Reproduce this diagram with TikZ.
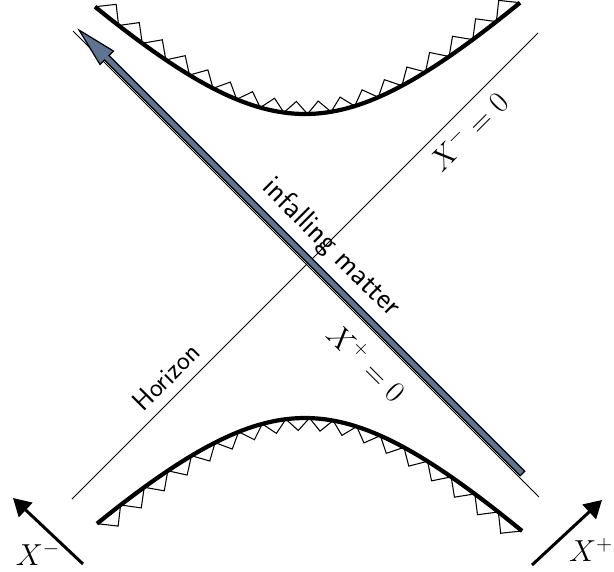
\documentclass[tikz,border=0pt]{standalone}
\usepackage{amsmath}
\usetikzlibrary{arrows.meta,calc}
\definecolor{matter}{RGB}{94,116,146}

\begin{document}
\begin{tikzpicture}[>=Stealth, font=\LARGE,
      axis/.style={line width=0.5pt},
      wall/.style={line width=2.4pt},
      tooth/.style={line width=0.6pt, line join=miter},
      cone/.style={-{Triangle[length=3.5mm,width=3.9mm]}, line width=1.7pt},
      lab/.style={inner sep=0pt}]
      \useasboundingbox (-6.10,-6.10) rectangle (6.18,5.32);
      % horizons
      \coordinate (hl) at (-4.66,-4.66); \coordinate (hr) at (4.66,4.66);
      \coordinate (pl) at (-4.64,4.70);  \coordinate (pr) at (4.68,-4.62);
      \draw[axis] (hl) -- (hr);
      \draw[axis] (pl) -- (pr);
      % singularities
      \draw[wall] plot[domain=-4.2:4.3, samples=80] (\x,{sqrt(9.2416+\x*\x)});
      \draw[wall] plot[domain=-4.16:4.34, samples=80] (\x,{-sqrt(9.2416+\x*\x)});
      \foreach \i in {0,...,17}{
        \pgfmathsetmacro\xa{-4.2+\i*0.4722}
        \pgfmathsetmacro\xb{\xa+0.4722}
        \coordinate (p) at (\xa,{sqrt(9.2416+\xa*\xa)});
        \coordinate (q) at (\xb,{sqrt(9.2416+\xb*\xb)});
        \draw[tooth] (p) -- ($(p)!0.7071!45:(q)$) -- (q);
        \pgfmathsetmacro\xc{-4.16+\i*0.4722}
        \pgfmathsetmacro\xd{\xc+0.4722}
        \coordinate (r) at (\xc,{-sqrt(9.2416+\xc*\xc)});
        \coordinate (s) at (\xd,{-sqrt(9.2416+\xd*\xd)});
        \draw[tooth] (r) -- ($(r)!0.7071!-45:(s)$) -- (s);
      }
      % infalling shell
      \coordinate (mtail) at (4.35,-4.15);
      \begin{scope}[shift={(mtail)}, rotate=135]
        \draw[fill=matter, line width=0.7pt, line join=miter]
              (0,-0.065) -- (11.76,-0.065) -- (11.76,-0.19) -- (12.54,0)
              -- (11.76,0.19) -- (11.76,0.065) -- (0,0.065) -- cycle;
      \end{scope}
      \node[lab, rotate=-45] (inf) at (0.52,0.36) {\sffamily infalling matter};
      \node[lab, rotate=45]  (hor) at (-2.78,-2.22) {\sffamily\fontsize{15.5}{18}\selectfont Horizon};
      \node[lab, rotate=45]  (xm0) at (3.26,2.70) {$X^-=0$};
      \node[lab, rotate=-45] (xp0) at (1.24,-1.92) {$X^+=0$};
      % light-cone directions
      \coordinate (xmt) at (-4.44,-5.96); \coordinate (xmh) at (-5.84,-4.64);
      \coordinate (xpt) at (4.54,-5.98);  \coordinate (xph) at (5.94,-4.68);
      \draw[cone] (xmt) -- (xmh);
      \draw[cone] (xpt) -- (xph);
      \node[lab] (xm) at (-5.34,-5.76) {$X^-$};
      \node[lab] (xp) at (5.72,-5.68) {$X^+$};
    \end{tikzpicture}
\end{document}
